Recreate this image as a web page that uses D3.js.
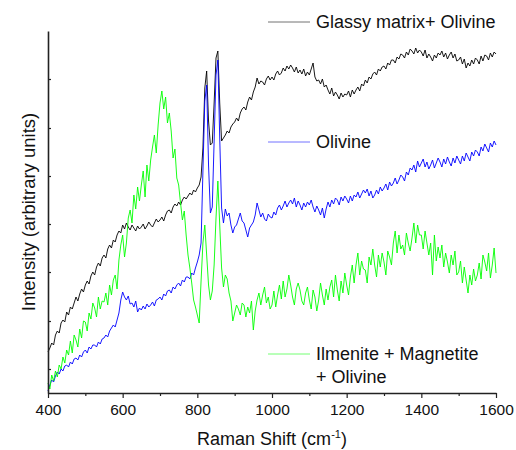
<!DOCTYPE html>
<html>
<head>
<meta charset="utf-8">
<script src="https://cdn.jsdelivr.net/npm/d3@7"></script>
<style>
  body { margin: 0; background: #fff; }
  text { font-family: Arial, "Liberation Sans", sans-serif; fill: #111; }
</style>
</head>
<body>
<div id="chart"></div>
<script>
const width = 516;
const height = 450;
const margin = { top: 31, right: 20, left: 48, bottom: 57 };

// Raman shift grid: 400 .. 1600 cm-1, one reading every 5 cm-1
const shiftStart = 400;
const shiftStep = 5;

// intensities (arbitrary units)
const glassy = [
  41, 45, 50, 48, 58, 62, 60, 70, 73, 71,
  81, 78, 86, 84, 90, 96, 92, 99, 104, 101,
  108, 112, 109, 117, 121, 118, 126, 130, 127, 135,
  138, 135, 144, 148, 145, 153, 151, 158, 162, 160,
  168, 164, 170, 166, 163, 168, 165, 162, 167, 164,
  166, 169, 164, 167, 171, 168, 166, 170, 174, 171,
  173, 176, 172, 178, 182, 183, 180, 186, 189, 187,
  191, 188, 193, 196, 194, 197, 200, 198, 203, 201,
  205, 208, 216, 245, 305, 322, 272, 248, 250, 290,
  335, 342, 290, 252, 255, 258, 262, 260, 266, 269,
  271, 275, 272, 280, 284, 286, 283, 291, 296, 293,
  301, 306, 315, 309, 312, 311, 308, 314, 317, 313,
  316, 313, 319, 322, 318, 320, 325, 322, 327, 324,
  328, 325, 321, 326, 320, 323, 319, 324, 317, 321,
  318, 324, 330, 316, 312, 313, 309, 314, 306, 308,
  303, 299, 305, 297, 301, 298, 294, 300, 296, 299,
  298, 302, 296, 303, 299, 303, 306, 302, 309, 307,
  313, 310, 316, 314, 319, 321, 318, 324, 322, 326,
  327, 324, 330, 328, 333, 333, 330, 336, 334, 339,
  338, 335, 341, 338, 344, 342, 339, 345, 340, 343,
  341, 337, 343, 335, 339, 336, 332, 338, 335, 340,
  338, 342, 336, 340, 334, 338, 341, 335, 339, 332,
  333, 336, 329, 334, 325, 330, 327, 333, 329, 335,
  333, 329, 337, 332, 338, 337, 333, 340, 336, 341,
  339
];

const olivine = [
  2, 8, 13, 11, 17, 21, 19, 24, 22, 27,
  28, 26, 31, 29, 34, 35, 33, 38, 36, 41,
  43, 40, 46, 44, 48, 48, 46, 51, 49, 54,
  55, 58, 56, 62, 65, 68, 66, 73, 80, 93,
  101, 96, 93, 97, 89, 90, 86, 92, 81, 85,
  83, 87, 84, 89, 86, 88, 91, 87, 93, 94,
  96, 93, 99, 97, 102, 103, 100, 106, 104, 108,
  110, 107, 113, 111, 116, 116, 114, 120, 118, 125,
  131, 138, 150, 222, 292, 308, 228, 180, 186, 252,
  318, 333, 255, 185, 170, 184, 177, 180, 168, 160,
  166, 168, 174, 180, 172, 170, 163, 156, 165, 168,
  171, 178, 190, 183, 176, 180, 174, 172, 179, 176,
  175, 181, 178, 185, 188, 183, 187, 192, 186, 190,
  193, 189, 195, 186, 192, 188, 183, 190, 186, 191,
  188, 193, 186, 181, 187, 183, 178, 185, 175, 184,
  191, 186, 193, 189, 195, 193, 188, 196, 192, 197,
  194, 190, 197, 192, 198, 196, 201, 195, 199, 203,
  200, 204, 197, 202, 195, 198, 203, 199, 206, 202,
  205, 209, 203, 211, 207, 210, 215, 209, 213, 218,
  216, 212, 221, 218, 225, 223, 228, 221, 232, 226,
  230, 234, 226, 231, 224, 228, 233, 225, 230, 235,
  231, 226, 234, 229, 236, 231, 227, 235, 230, 237,
  233, 229, 237, 232, 240, 236, 232, 241, 237, 243,
  241, 237, 246, 242, 249, 245, 241, 250, 246, 252,
  248
];

const ilmenite = [
  10, 4, 18, 12, 22, 16, 28, 24, 36, 30,
  43, 38, 52, 40, 58, 53, 46, 64, 55, 72,
  71, 62, 80, 74, 90, 85, 76, 96, 84, 92,
  91, 100, 88, 108, 98, 113, 118, 104, 133, 148,
  158, 136, 150, 175, 183, 170, 198, 184, 206, 192,
  208, 222, 196, 228, 212, 233, 246, 258, 240, 268,
  290, 302, 284, 296, 270, 280, 262, 235, 244, 215,
  208, 190, 173, 182, 158, 138, 125, 110, 93, 86,
  78, 70, 112, 150, 168, 138, 108, 93, 102, 128,
  175, 212, 168, 125, 106, 118, 114, 100, 92, 72,
  80, 88, 84, 78, 90, 88, 76, 86, 80, 92,
  63, 82, 93, 100, 88, 98, 106, 90, 96, 84,
  88, 102, 86, 98, 108, 94, 112, 96, 104, 118,
  108, 96, 88, 104, 110, 103, 92, 88, 100, 106,
  93, 84, 103, 96, 82, 93, 110, 98, 88, 104,
  93, 106, 113, 96, 118, 103, 92, 112, 100, 120,
  108, 98, 116, 128, 110, 128, 140, 118, 132, 124,
  123, 110, 136, 128, 144, 128, 116, 138, 126, 140,
  131, 118, 142, 136, 128, 150, 162, 140, 158, 144,
  148, 138, 160, 150, 142, 155, 170, 150, 168, 158,
  158, 144, 162, 150, 138, 150, 118, 158, 132, 146,
  135, 148, 126, 140, 131, 120, 138, 128, 142, 118,
  121, 132, 110, 126, 113, 100, 118, 108, 124, 112,
  118, 130, 114, 138, 131, 122, 140, 115, 128, 145,
  120
];

const xTicks = [400, 600, 800, 1000, 1200, 1400, 1600];
const xMinorTicks = [500, 700, 900, 1100, 1300, 1500];
const yTicks = [24, 72, 121, 169, 217, 265, 314];

const series = [
  { name: 'glassy', values: glassy, color: '#000000' },
  { name: 'olivine', values: olivine, color: '#0000ff' },
  { name: 'ilmenite', values: ilmenite, color: '#00ff00' }
];

const legend = [
  { lines: ['Glassy matrix+ Olivine'], color: '#000000', y: 22 },
  { lines: ['Olivine'], color: '#0000ff', y: 142 },
  { lines: ['Ilmenite + Magnetite', '+ Olivine'], color: '#00ff00', y: 354 }
];

const svg = d3.select('#chart')
  .append('svg')
  .attr('width', width)
  .attr('height', height);

const xScale = d3.scaleLinear()
  .domain([400, 1600])
  .range([margin.left, width - margin.right]);

const yScale = d3.scaleLinear()
  .domain([0, 362])
  .range([height - margin.bottom, margin.top]);

const line = d3.line()
  .x((d, i) => xScale(shiftStart + i * shiftStep))
  .y((d) => yScale(d));

svg.append('g')
  .selectAll('path')
  .data(series)
  .join('path')
  .attr('class', (d) => 'spectrum ' + d.name)
  .attr('d', (d) => line(d.values))
  .attr('fill', 'none')
  .attr('stroke', (d) => d.color)
  .attr('stroke-width', 0.9)
  .attr('stroke-linejoin', 'round');

// x axis, labelled major ticks and short minor ticks
const xAxis = svg.append('g')
  .attr('class', 'x-axis')
  .attr('transform', `translate(0,${height - margin.bottom})`)
  .call(d3.axisBottom(xScale)
    .tickValues(xTicks)
    .tickFormat(d3.format('d'))
    .tickSize(5)
    .tickSizeOuter(0)
    .tickPadding(6));

svg.append('g')
  .attr('class', 'x-minor')
  .attr('transform', `translate(0,${height - margin.bottom})`)
  .call(d3.axisBottom(xScale).tickValues(xMinorTicks).tickSize(3).tickFormat(''))
  .call((g) => g.select('.domain').remove());

xAxis.selectAll('text')
  .style('font-size', '15.5px')
  .attr('fill', '#111');

// y axis, no labels, ticks pointing inward
svg.append('g')
  .attr('class', 'y-axis')
  .attr('transform', `translate(${margin.left},0)`)
  .call(d3.axisLeft(yScale).tickValues(yTicks).tickSize(-3).tickSizeOuter(0).tickFormat(''));

svg.selectAll('.domain')
  .attr('stroke', '#222')
  .attr('stroke-width', 1.6);
svg.selectAll('.tick line')
  .attr('stroke', '#222')
  .attr('stroke-width', 1.2);

// axis titles
const xTitle = svg.append('text')
  .attr('x', (margin.left + width - margin.right) / 2)
  .attr('y', 445)
  .attr('text-anchor', 'middle')
  .style('font-size', '18px');
xTitle.append('tspan').text('Raman Shift (cm');
xTitle.append('tspan').attr('dy', -7).style('font-size', '11px').text('-1');
xTitle.append('tspan').attr('dy', 7).text(')');

svg.append('text')
  .attr('transform', 'translate(35,212) rotate(-90)')
  .attr('text-anchor', 'middle')
  .style('font-size', '18.5px')
  .text('Intensity (arbitrary units)');

// legend
const items = svg.append('g')
  .attr('class', 'legend')
  .selectAll('g')
  .data(legend)
  .join('g');

items.append('line')
  .attr('x1', 268)
  .attr('x2', 310)
  .attr('y1', (d) => d.y)
  .attr('y2', (d) => d.y)
  .attr('stroke', (d) => d.color)
  .attr('stroke-width', 1)
  .attr('opacity', 0.55);

items.each(function (d) {
  d3.select(this)
    .selectAll('text')
    .data(d.lines)
    .join('text')
    .attr('x', 316)
    .attr('y', (t, i) => d.y + 6 + i * 22.5)
    .style('font-size', '18px')
    .text((t) => t);
});
</script>
</body>
</html>
